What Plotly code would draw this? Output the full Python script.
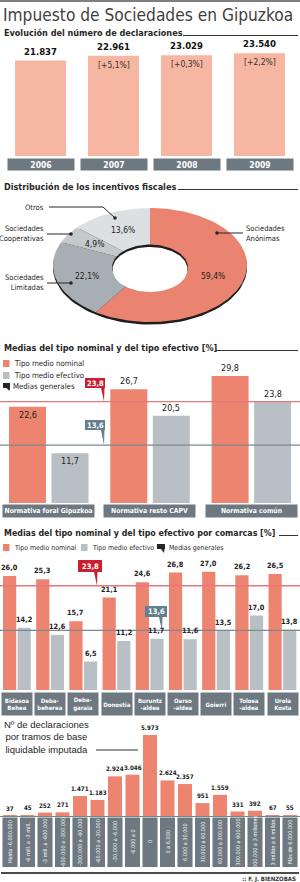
import math
import plotly.graph_objects as go

W, H = 300, 882

# ---------------- DATA ----------------
years = ['2006', '2007', '2008', '2009']
declaraciones = [21837, 22961, 23029, 23540]
variacion = ['', '[+5,1%]', '[+0,3%]', '[+2,2%]']

incentivos = ['Sociedades Anónimas', 'Sociedades Limitadas', 'Sociedades Cooperativas', 'Otros']
incentivos_pct = [59.4, 22.1, 4.9, 13.6]

normativas = ['Normativa foral Gipuzkoa', 'Normativa resto CAPV', 'Normativa común']
nominal_norm = [22.6, 26.7, 29.8]
efectivo_norm = [11.7, 20.5, 23.8]
media_nominal = 23.8
media_efectivo = 13.6

comarcas = ['Bidasoa<br>Behea', 'Deba-<br>beherea', 'Deba-<br>garaia', 'Donostia', 'Buruntz<br>-aldea',
            'Oarso<br>-aldea', 'Goierri', 'Tolosa<br>-aldea', 'Urola<br>Kosta']
nominal_com = [26.0, 25.3, 15.7, 21.1, 24.6, 26.8, 27.0, 26.2, 26.5]
efectivo_com = [14.2, 12.6, 6.5, 11.2, 11.7, 11.6, 13.5, 17.0, 13.8]

tramos = ['Hasta -6.000.000', '-6 mill. a -3 mill.', '-3 mill. a -600.000', '-600.000 a -300.000',
          '-300.000 a -60.000', '-60.000 a -30.000', '-30.000 a -6.000', '-6.000 a 0', '0',
          '0 a 6.000', '6.000 a 30.000', '30.000 a 60.000', '60.000 a 300.000', '300.000 a 600.000',
          '600.000 a 3 millones', '3 millón a 6 millón.', 'Más de 6.000.000']
num_decl = [37, 45, 252, 271, 1471, 1183, 2924, 3046, 5973, 2624, 2357, 951, 1559, 331, 392, 67, 55]

# ---------------- STYLE ----------------
FN = "DejaVu Sans Condensed, Liberation Sans Narrow, Arial Narrow, sans-serif"
FT = "DejaVu Sans Condensed, Liberation Sans Narrow, sans-serif"
DARK = '#262626'
BOX = '#6d7880'
SALMON = '#ec8470'
SALMON_L = '#f6b6a2'
GRAY = '#b9c0c5'
RED = '#c8202e'
RED_LINE = '#e7777c'
GRAY_LINE = '#7c8990'
GRAY_CALL = '#62808d'


def fi(v):
    return f"{v:,}".replace(',', '.')


def fd(v):
    return f"{v:.1f}".replace('.', ',')


def px(x):
    return x / W


def py(y):
    return 1 - y / H


annotations = []
shapes = []
traces = []
layout = {}


def text(x, y, s, size=9, color=DARK, family=FN, bold=False, xanchor='left', yanchor='middle', **kw):
    annotations.append(dict(x=px(x), y=py(y), xref='paper', yref='paper',
                            text=f'<b>{s}</b>' if bold else s, showarrow=False,
                            xanchor=xanchor, yanchor=yanchor,
                            font=dict(size=size, color=color, family=family), **kw))


def hline(x0, x1, y, color, width=1):
    shapes.append(dict(type='line', xref='paper', yref='paper', x0=px(x0), x1=px(x1),
                       y0=py(y), y1=py(y), line=dict(color=color, width=width)))


def seg(x0, y0, x1, y1, color=DARK, width=1):
    shapes.append(dict(type='line', xref='paper', yref='paper', x0=px(x0), x1=px(x1),
                       y0=py(y0), y1=py(y1), line=dict(color=color, width=width)))


def rect(x0, y0, x1, y1, color):
    shapes.append(dict(type='rect', xref='paper', yref='paper', x0=px(x0), x1=px(x1),
                       y0=py(y0), y1=py(y1), fillcolor=color, line=dict(width=0)))


def poly(points, color):
    path = 'M ' + ' L '.join(f'{px(a):.5f},{py(b):.5f}' for a, b in points) + ' Z'
    shapes.append(dict(type='path', xref='paper', yref='paper', path=path,
                       fillcolor=color, line=dict(width=0)))


def dot(x, y, r=1.8):
    shapes.append(dict(type='circle', xref='paper', yref='paper', x0=px(x - r), x1=px(x + r),
                       y0=py(y + r), y1=py(y - r), fillcolor=DARK, line=dict(width=0)))


def setup_axes(n, cats, c0, pitch, y_top, y_base, scale):
    xs = 'xaxis' if n == 1 else f'xaxis{n}'
    ys = 'yaxis' if n == 1 else f'yaxis{n}'
    suf = '' if n == 1 else str(n)
    layout[xs] = dict(domain=[0, 1], type='category', categoryorder='array', categoryarray=cats,
                      range=[-c0 / pitch, (W - c0) / pitch], visible=False,
                      fixedrange=True, anchor='y' + suf)
    layout[ys] = dict(domain=[py(y_base), py(y_top)], range=[0, (y_base - y_top) / scale],
                      visible=False, fixedrange=True, anchor='x' + suf)


def flag(x0, y0, x1, y1, tail_x, tail_y, color):
    poly([(x0, y0), (x1, y0), (x1, y1), (tail_x + 0.5, y1), (tail_x, tail_y), (tail_x - 3, y1), (x0, y1)], color)


def subtitle(y, s, line_x0, size=9):
    text(2, y, s, size=size, bold=True)
    hline(line_x0, 298, y + 2.5, '#333', 1)


# ---------------- HEADER ----------------
hline(0, 300, 1, '#555', 1.5)
text(1, 15, 'Impuesto de Sociedades en Gipuzkoa', size=17.2, color='#3f3f3f', family=FT)

# ---------------- CHART 1 ----------------
subtitle(33, 'Evolución del número de declaraciones', 183)
C1 = dict(c0=40.5, pitch=73.0, top=40, base=156, scale=0.00437)
setup_axes(1, years, C1['c0'], C1['pitch'], C1['top'], C1['base'], C1['scale'])
w1 = 51 / C1['pitch']
traces.append(go.Bar(x=years, y=declaraciones, width=w1, offset=-w1 / 2, marker=dict(color=SALMON_L, line=dict(width=0)),
                     xaxis='x', yaxis='y', hoverinfo='skip'))
for i, (yr, v, ch) in enumerate(zip(years, declaraciones, variacion)):
    annotations.append(dict(x=i, y=v, xref='x', yref='y', text=f'<b>{fi(v)}</b>', showarrow=False,
                            yanchor='bottom', yshift=2, font=dict(size=9.5, color='#111', family=FN)))
    if ch:
        annotations.append(dict(x=i, y=v, xref='x', yref='y', text=ch, showarrow=False,
                                yanchor='top', yshift=-2, font=dict(size=8.5, color='#333', family=FN)))
    annotations.append(dict(x=i, y=py(164.5), xref='x', yref='paper', text=f'<b>{yr}</b>', showarrow=False,
                            yanchor='middle', width=66, height=11, bgcolor=BOX, borderpad=0,
                            font=dict(size=8.5, color='white', family=FN)))

# ---------------- CHART 2 (donut) ----------------
subtitle(187, 'Distribución de los incentivos fiscales', 178)
layout['xaxis5'] = dict(domain=[0, 1], range=[0, W], visible=False, fixedrange=True, anchor='y5')
layout['yaxis5'] = dict(domain=[py(340), py(195)], range=[340, 195], visible=False, fixedrange=True, anchor='x5')
cx, cy, rx, ry = 150, 265, 97, 57
donut_colors = ['#ea8370', '#a8afb4', '#c4c9cc', '#dde0e2']


def ell(cxx, cyy, a, b, t0=0, t1=360, n=120, center=False):
    pts = []
    for k in range(n + 1):
        t = math.radians(t0 + (t1 - t0) * k / n)
        pts.append((cxx + a * math.sin(t), cyy - b * math.cos(t)))
    if center:
        pts = [(cxx, cyy)] + pts
    return pts


def add_poly_trace(pts, color):
    traces.append(go.Scatter(x=[p[0] for p in pts] + [pts[0][0]], y=[p[1] for p in pts] + [pts[0][1]],
                             fill='toself', fillcolor=color, mode='lines', line=dict(width=0, color=color),
                             xaxis='x5', yaxis='y5', hoverinfo='skip', showlegend=False))


add_poly_trace(ell(cx, cy + 2.5, rx, ry), '#1e1e1e')
total = sum(incentivos_pct)
cum = 0
mids = []
for pct, col in zip(incentivos_pct, donut_colors):
    t0 = cum / total * 360
    cum += pct
    t1 = cum / total * 360
    add_poly_trace(ell(cx, cy, rx, ry, t0, t1, n=max(8, int(t1 - t0)), center=True), col)
    mids.append((t0 + t1) / 2)
add_poly_trace(ell(cx, 267.5, 38, 23), '#1e1e1e')
add_poly_trace(ell(cx, 269.5, 37.5, 22.5), 'white')
for pct, tm in zip(incentivos_pct, mids):
    t = math.radians(tm)
    annotations.append(dict(x=cx + 0.68 * rx * math.sin(t), y=cy - 0.68 * ry * math.cos(t), xref='x5', yref='y5',
                            text=fd(pct) + '%', showarrow=False, font=dict(size=8.5, color='#222', family=FN)))
# callouts
text(46, 207, 'Otros', size=7.5, xanchor='right')
seg(49, 207, 103, 207)
seg(103, 207, 115, 218)
dot(115, 218)
text(46, 233, 'Sociedades<br>Cooperativas', size=7.5, xanchor='right', align='right')
seg(47, 234, 71, 234)
dot(71, 234)
text(46, 282, 'Sociedades<br>Limitadas', size=7.5, xanchor='right', align='right')
seg(47, 283, 71, 283)
dot(71, 283)
text(244, 233, 'Sociedades<br>Anónimas', size=7.5, xanchor='left', align='left')
seg(217, 233, 243, 233)
dot(217, 233)

# ---------------- CHART 3 ----------------
subtitle(348, 'Medias del tipo nominal y del tipo efectivo [%]', 216)
C3 = dict(c0=48.5, pitch=101.3, top=355, base=503, scale=4.26)
setup_axes(2, normativas, C3['c0'], C3['pitch'], C3['top'], C3['base'], C3['scale'])
bw3 = 37 / C3['pitch']
off_n3 = (9 - 48.5) / C3['pitch']
off_e3 = (51.5 - 48.5) / C3['pitch']
traces.append(go.Bar(x=normativas, y=nominal_norm, width=bw3, offset=off_n3, marker=dict(color=SALMON, line=dict(width=0)),
                     xaxis='x2', yaxis='y2', hoverinfo='skip'))
traces.append(go.Bar(x=normativas, y=efectivo_norm, width=bw3, offset=off_e3, marker=dict(color=GRAY, line=dict(width=0)),
                     xaxis='x2', yaxis='y2', hoverinfo='skip'))
inside3 = [True, False, False]
for i, cat in enumerate(normativas):
    for val, off in ((nominal_norm[i], off_n3), (efectivo_norm[i], off_e3)):
        xa = i + off + bw3 / 2
        annotations.append(dict(x=xa, y=val, xref='x2', yref='y2', text=fd(val), showarrow=False,
                                yanchor='top' if inside3[i] else 'bottom', yshift=-1 if inside3[i] else 1,
                                font=dict(size=9, color='#222', family=FN)))
    annotations.append(dict(x=i, y=py(511), xref='x2', yref='paper', text=f'<b>{cat}</b>', showarrow=False,
                            yanchor='middle', width=91, height=12, bgcolor=BOX, borderpad=0,
                            font=dict(size=6.8, color='white', family=FN)))
for val, col in ((media_nominal, RED_LINE), (media_efectivo, GRAY_LINE)):
    shapes.append(dict(type='line', xref='paper', yref='y2', x0=0, x1=1, y0=val, y1=val,
                       line=dict(color=col, width=1.3), layer='above'))
yl_n3 = C3['base'] - media_nominal * C3['scale']
yl_e3 = C3['base'] - media_efectivo * C3['scale']
flag(85, 378, 105, 388, 104, yl_n3, RED)
text(95, 383, fd(media_nominal), size=7.5, color='white', bold=True, xanchor='center')
flag(85, 420, 105, 430, 104, yl_e3, GRAY_CALL)
text(95, 425, fd(media_efectivo), size=7.5, color='white', bold=True, xanchor='center')
# legend
rect(3, 360, 9.5, 367, SALMON)
text(12, 363.5, 'Tipo medio nominal', size=7.8)
rect(3, 372, 9.5, 379, GRAY)
text(12, 375.5, 'Tipo medio efectivo', size=7.8)
flag(3, 383, 10, 388, 9.5, 391, DARK)
text(11, 386, 'Medias generales', size=7.8)

# ---------------- CHART 4 ----------------
subtitle(533, 'Medias del tipo nominal y del tipo efectivo por comarcas [%]', 279, size=8.8)
C4 = dict(c0=17, pitch=33.19, top=555, base=690, scale=4.38)
setup_axes(3, comarcas, C4['c0'], C4['pitch'], C4['top'], C4['base'], C4['scale'])
bw4 = 13.2 / C4['pitch']
off_n4 = -14 / C4['pitch']
off_e4 = 0.6 / C4['pitch']
traces.append(go.Bar(x=comarcas, y=nominal_com, width=bw4, offset=off_n4, marker=dict(color=SALMON, line=dict(width=0)),
                     xaxis='x3', yaxis='y3', hoverinfo='skip'))
traces.append(go.Bar(x=comarcas, y=efectivo_com, width=bw4, offset=off_e4, marker=dict(color=GRAY, line=dict(width=0)),
                     xaxis='x3', yaxis='y3', hoverinfo='skip'))
for i, cat in enumerate(comarcas):
    for val, off in ((nominal_com[i], off_n4), (efectivo_com[i], off_e4)):
        annotations.append(dict(x=i + off + bw4 / 2, y=val, xref='x3', yref='y3', text=f'<b>{fd(val)}</b>',
                                showarrow=False, yanchor='bottom', yshift=2,
                                font=dict(size=7.3, color='#222', family=FN)))
    annotations.append(dict(x=i, y=py(704), xref='x3', yref='paper', text=f'<b>{cat}</b>', showarrow=False,
                            yanchor='middle', width=30, height=22, bgcolor=BOX, borderpad=0,
                            font=dict(size=6, color='white', family=FN)))
for val, col in ((media_nominal, RED_LINE), (media_efectivo, GRAY_LINE)):
    shapes.append(dict(type='line', xref='paper', yref='y3', x0=0, x1=1, y0=val, y1=val,
                       line=dict(color=col, width=1.3), layer='above'))
yl_n4 = C4['base'] - media_nominal * C4['scale']
yl_e4 = C4['base'] - media_efectivo * C4['scale']
flag(78, 560, 102, 572, 97, yl_n4, RED)
text(90, 566, fd(media_nominal), size=7.5, color='white', bold=True, xanchor='center')
flag(145, 606, 167, 617, 162, yl_e4, GRAY_CALL)
text(156, 611.5, fd(media_efectivo), size=7.5, color='white', bold=True, xanchor='center')
# legend
rect(3, 544, 9.5, 551, SALMON)
text(11.5, 547.5, 'Tipo medio nominal', size=6.9)
rect(81, 544, 87.5, 551, GRAY)
text(89.5, 547.5, 'Tipo medio efectivo', size=6.9)
flag(157, 544, 165, 549, 164, 553, DARK)
text(167, 547.5, 'Medias generales', size=6.9)

# ---------------- CHART 5 ----------------
text(2, 737, 'Nº de declaraciones<br>por tramos de base<br>liquidable imputada', size=9.5,
     family='Liberation Sans, DejaVu Sans, sans-serif')
hline(96, 138, 750, '#333', 1)
C5 = dict(c0=10, pitch=17.5, top=722, base=816, scale=0.01356)
setup_axes(4, tramos, C5['c0'], C5['pitch'], C5['top'], C5['base'], C5['scale'])
bw5 = 14 / C5['pitch']
traces.append(go.Bar(x=tramos, y=num_decl, width=bw5, offset=-bw5 / 2, marker=dict(color=SALMON, line=dict(width=0)),
                     xaxis='x4', yaxis='y4', hoverinfo='skip'))
for i, (cat, v) in enumerate(zip(tramos, num_decl)):
    annotations.append(dict(x=i, y=v, xref='x4', yref='y4', text=f'<b>{fi(v)}</b>', showarrow=False,
                            yanchor='bottom', yshift=2, font=dict(size=6.2, color='#222', family=FN)))
    shapes.append(dict(type='rect', xref='x4', yref='paper', x0=i - 0.43, x1=i + 0.43, y0=py(867), y1=py(817.5),
                       fillcolor=BOX, line=dict(width=0)))
    annotations.append(dict(x=i, y=py(842), xref='x4', yref='paper', text=cat, showarrow=False,
                            yanchor='middle', xanchor='center', textangle=-90,
                            font=dict(size=5.5, color='white', family=FN)))
hline(0, 300, 816.5, '#7a858c', 1.2)
hline(1, 299, 873, '#111', 1.5)
text(298, 878.5, ':: F. J. BIENZOBAS', size=6, bold=True, xanchor='right', color='#333')

fig = go.Figure(data=traces)
fig.update_layout(width=W, height=H, margin=dict(l=0, r=0, t=0, b=0), paper_bgcolor='white',
                  plot_bgcolor='rgba(0,0,0,0)', showlegend=False, barmode='overlay',
                  annotations=annotations, shapes=shapes, **layout)
fig.write_html('out.html', config={'displayModeBar': False})
